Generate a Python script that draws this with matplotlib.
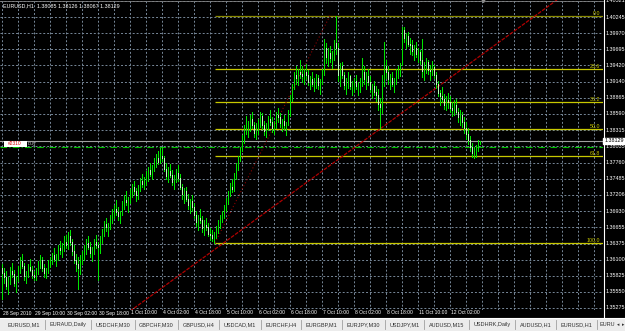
import matplotlib
matplotlib.use("Agg")
import matplotlib.pyplot as plt
from matplotlib.lines import Line2D
from matplotlib.patches import Rectangle

plt.rcParams['font.family'] = ['Liberation Sans', 'DejaVu Sans']

symbol = "EURUSD,H1"
header_ohlc = "1.38085 1.38126 1.38067 1.38129"

# hourly bars (one entry per bar)
highs = [
    1.3602, 1.3595, 1.3590, 1.3580, 1.3598, 1.3605, 1.3593, 1.3582,
    1.3600, 1.3615, 1.3620, 1.3605, 1.3590, 1.3602, 1.3612, 1.3600,
    1.3590, 1.3595, 1.3608, 1.3618, 1.3614, 1.3602, 1.3596, 1.3610,
    1.3615, 1.3622, 1.3630, 1.3620, 1.3635, 1.3642, 1.3638, 1.3650,
    1.3652, 1.3658, 1.3660, 1.3645, 1.3635, 1.3620, 1.3615, 1.3618,
    1.3625, 1.3635, 1.3645, 1.3650, 1.3640, 1.3632, 1.3645, 1.3652,
    1.3641, 1.3651, 1.3663, 1.3676, 1.3681, 1.3673, 1.3686, 1.3696,
    1.3704, 1.3712, 1.3700, 1.3694, 1.3710, 1.3720, 1.3727, 1.3717,
    1.3730, 1.3740, 1.3744, 1.3732, 1.3737, 1.3750, 1.3757, 1.3752,
    1.3761, 1.3768, 1.3775, 1.3771, 1.3783, 1.3791, 1.3795, 1.3801,
    1.3803, 1.3788, 1.3775, 1.3768, 1.3773, 1.3763, 1.3755, 1.3765,
    1.3772, 1.3757, 1.3740, 1.3732, 1.3734, 1.3722, 1.3714, 1.3720,
    1.3707, 1.3694, 1.3687, 1.3697, 1.3684, 1.3677, 1.3682, 1.3672,
    1.3664, 1.3660, 1.3658, 1.3667, 1.3677, 1.3687, 1.3694, 1.3704,
    1.3715, 1.3728, 1.3741, 1.3748, 1.3758, 1.3775, 1.3788, 1.3803,
    1.3823, 1.3840, 1.3855, 1.3847, 1.3857, 1.3863, 1.3845, 1.3843,
    1.3850, 1.3863, 1.3860, 1.3847, 1.3843, 1.3855, 1.3865, 1.3853,
    1.3847, 1.3863, 1.3870, 1.3860, 1.3851, 1.3857, 1.3845, 1.3865,
    1.3891, 1.3911, 1.3931, 1.3941, 1.3936, 1.3951, 1.3941, 1.3936,
    1.3944, 1.3934, 1.3924, 1.3931, 1.3921, 1.3928, 1.3926, 1.3918,
    1.3936, 1.3988, 1.3981, 1.3971, 1.3976, 1.3966, 1.3986, 1.4027,
    1.3981, 1.3946, 1.3948, 1.3931, 1.3921, 1.3931, 1.3926, 1.3916,
    1.3921, 1.3926, 1.3914, 1.3921, 1.3954, 1.3941, 1.3931, 1.3936,
    1.3924, 1.3911, 1.3916, 1.3906, 1.3901, 1.3886, 1.3926, 1.3982,
    1.3951, 1.3941, 1.3928, 1.3931, 1.3921, 1.3936, 1.3941, 1.3946,
    1.4008, 1.4007, 1.3997, 1.3999, 1.3989, 1.3985, 1.3977, 1.3982,
    1.3972, 1.3969, 1.3987, 1.3947, 1.3955, 1.3952, 1.3942, 1.3949,
    1.3943, 1.3930, 1.3915, 1.3900, 1.3905, 1.3893, 1.3890, 1.3895,
    1.3890, 1.3880, 1.3883, 1.3885, 1.3870, 1.3865, 1.3863, 1.3853,
    1.3845, 1.3835, 1.3822, 1.3810, 1.3802, 1.3806, 1.3814, 1.3813,
]
lows = [
    1.3542, 1.3570, 1.3560, 1.3552, 1.3568, 1.3580, 1.3565, 1.3555,
    1.3573, 1.3588, 1.3595, 1.3575, 1.3570, 1.3580, 1.3590, 1.3578,
    1.3575, 1.3576, 1.3585, 1.3595, 1.3590, 1.3580, 1.3578, 1.3588,
    1.3598, 1.3602, 1.3608, 1.3600, 1.3610, 1.3620, 1.3615, 1.3625,
    1.3630, 1.3628, 1.3635, 1.3618, 1.3605, 1.3590, 1.3560, 1.3585,
    1.3602, 1.3610, 1.3620, 1.3628, 1.3615, 1.3608, 1.3620, 1.3630,
    1.3576, 1.3621, 1.3639, 1.3651, 1.3659, 1.3651, 1.3663, 1.3673,
    1.3682, 1.3687, 1.3677, 1.3672, 1.3686, 1.3697, 1.3704, 1.3692,
    1.3707, 1.3717, 1.3722, 1.3710, 1.3714, 1.3727, 1.3734, 1.3730,
    1.3738, 1.3745, 1.3753, 1.3748, 1.3761, 1.3768, 1.3773, 1.3775,
    1.3778, 1.3761, 1.3748, 1.3743, 1.3751, 1.3738, 1.3731, 1.3743,
    1.3744, 1.3730, 1.3714, 1.3707, 1.3710, 1.3697, 1.3690, 1.3694,
    1.3682, 1.3667, 1.3660, 1.3672, 1.3657, 1.3652, 1.3660, 1.3650,
    1.3644, 1.3642, 1.3639, 1.3647, 1.3656, 1.3664, 1.3674, 1.3682,
    1.3693, 1.3705, 1.3718, 1.3725, 1.3728, 1.3748, 1.3763, 1.3778,
    1.3795, 1.3810, 1.3825, 1.3820, 1.3830, 1.3835, 1.3820, 1.3817,
    1.3825, 1.3837, 1.3833, 1.3823, 1.3820, 1.3831, 1.3840, 1.3829,
    1.3825, 1.3835, 1.3845, 1.3837, 1.3830, 1.3833, 1.3823, 1.3840,
    1.3856, 1.3881, 1.3901, 1.3911, 1.3908, 1.3921, 1.3914, 1.3911,
    1.3918, 1.3908, 1.3901, 1.3906, 1.3898, 1.3904, 1.3901, 1.3894,
    1.3911, 1.3926, 1.3946, 1.3941, 1.3948, 1.3938, 1.3951, 1.3961,
    1.3916, 1.3906, 1.3921, 1.3901, 1.3894, 1.3904, 1.3901, 1.3891,
    1.3896, 1.3901, 1.3891, 1.3896, 1.3906, 1.3911, 1.3901, 1.3908,
    1.3896, 1.3886, 1.3891, 1.3881, 1.3866, 1.3835, 1.3861, 1.3906,
    1.3921, 1.3911, 1.3901, 1.3906, 1.3896, 1.3911, 1.3921, 1.3924,
    1.3942, 1.3982, 1.3972, 1.3975, 1.3962, 1.3959, 1.3952, 1.3957,
    1.3947, 1.3945, 1.3922, 1.3917, 1.3929, 1.3927, 1.3917, 1.3925,
    1.3920, 1.3903, 1.3890, 1.3875, 1.3880, 1.3867, 1.3865, 1.3870,
    1.3863, 1.3855, 1.3857, 1.3860, 1.3845, 1.3840, 1.3837, 1.3827,
    1.3817, 1.3807, 1.3795, 1.3786, 1.3784, 1.3786, 1.3795, 1.3807,
]
closes = [
    1.3588, 1.3580, 1.3565, 1.3575, 1.3590, 1.3585, 1.3570, 1.3578,
    1.3595, 1.3608, 1.3600, 1.3582, 1.3586, 1.3598, 1.3593, 1.3584,
    1.3580, 1.3590, 1.3602, 1.3610, 1.3596, 1.3588, 1.3592, 1.3605,
    1.3610, 1.3618, 1.3612, 1.3616, 1.3630, 1.3626, 1.3632, 1.3640,
    1.3635, 1.3650, 1.3640, 1.3625, 1.3610, 1.3602, 1.3595, 1.3612,
    1.3620, 1.3630, 1.3638, 1.3632, 1.3622, 1.3628, 1.3640, 1.3635,
    1.3631, 1.3646, 1.3659, 1.3671, 1.3666, 1.3669, 1.3681, 1.3689,
    1.3697, 1.3692, 1.3684, 1.3690, 1.3704, 1.3712, 1.3708, 1.3714,
    1.3724, 1.3734, 1.3727, 1.3720, 1.3732, 1.3744, 1.3740, 1.3747,
    1.3755, 1.3763, 1.3757, 1.3768, 1.3778, 1.3783, 1.3777, 1.3788,
    1.3783, 1.3765, 1.3753, 1.3761, 1.3755, 1.3743, 1.3748, 1.3758,
    1.3750, 1.3734, 1.3722, 1.3727, 1.3714, 1.3704, 1.3710, 1.3700,
    1.3687, 1.3674, 1.3682, 1.3677, 1.3664, 1.3670, 1.3666, 1.3654,
    1.3652, 1.3647, 1.3654, 1.3662, 1.3672, 1.3682, 1.3690, 1.3697,
    1.3711, 1.3723, 1.3735, 1.3731, 1.3753, 1.3771, 1.3783, 1.3798,
    1.3817, 1.3833, 1.3837, 1.3843, 1.3850, 1.3840, 1.3827, 1.3835,
    1.3845, 1.3855, 1.3840, 1.3830, 1.3837, 1.3850, 1.3845, 1.3835,
    1.3841, 1.3857, 1.3853, 1.3843, 1.3847, 1.3840, 1.3843, 1.3860,
    1.3886, 1.3906, 1.3926, 1.3921, 1.3931, 1.3928, 1.3924, 1.3931,
    1.3926, 1.3914, 1.3918, 1.3911, 1.3916, 1.3921, 1.3908, 1.3914,
    1.3931, 1.3971, 1.3956, 1.3964, 1.3954, 1.3958, 1.3981, 1.3971,
    1.3926, 1.3941, 1.3926, 1.3908, 1.3914, 1.3924, 1.3906, 1.3911,
    1.3916, 1.3906, 1.3908, 1.3916, 1.3931, 1.3918, 1.3924, 1.3914,
    1.3901, 1.3906, 1.3896, 1.3891, 1.3876, 1.3871, 1.3916, 1.3941,
    1.3931, 1.3918, 1.3921, 1.3911, 1.3916, 1.3931, 1.3934, 1.3941,
    1.4002, 1.3989, 1.3992, 1.3979, 1.3977, 1.3967, 1.3972, 1.3962,
    1.3965, 1.3952, 1.3932, 1.3942, 1.3947, 1.3935, 1.3932, 1.3939,
    1.3925, 1.3910, 1.3895, 1.3890, 1.3885, 1.3875, 1.3883, 1.3880,
    1.3870, 1.3865, 1.3875, 1.3863, 1.3853, 1.3857, 1.3845, 1.3835,
    1.3825, 1.3815, 1.3803, 1.3792, 1.3796, 1.3802, 1.3808, 1.3813,
]
first_open = 1.3595

date_labels = ["28 Sep 2010", "29 Sep 10:00", "30 Sep 02:00", "30 Sep 18:00",
               "1 Oct 10:00", "4 Oct 02:00", "4 Oct 18:00", "5 Oct 10:00",
               "6 Oct 02:00", "6 Oct 18:00", "7 Oct 10:00", "8 Oct 02:00",
               "8 Oct 18:00", "11 Oct 10:00", "12 Oct 02:00"]
bars_per_label = 16

price_ticks = [1.40521, 1.40245, 1.39970, 1.39695, 1.39420, 1.39140, 1.38865,
               1.38590, 1.38315, 1.38035, 1.37760, 1.37485, 1.37206, 1.36930,
               1.36655, 1.36375, 1.36100, 1.35825, 1.35550, 1.35275]

bid = 1.38129
order_price = 1.3803

fib_low, fib_high = 1.3639, 1.4027
fib_bars = [106.5, 164]
fib_levels = [0.0, 23.6, 38.2, 50.0, 61.8, 100.0]

trend_bars = [64, 277.5]
trend_prices = [1.3522, 1.4054]

tabs = ["EURUSD,M1", "EURAUD,Daily", "USDCHF,M30", "GBPCHF,M30", "GBPUSD,H4",
        "USDCAD,M1", "EURCHF,H4", "EURGBP,M1", "EURJPY,M30", "USDJPY,M1",
        "AUDUSD,M15", "USDHRK,Daily", "AUDUSD,H1", "EURUSD,H1", "EURU"]

W, H = 625, 331
fig = plt.figure(figsize=(W / 100, H / 100), dpi=100, facecolor='black')
ax = fig.add_axes([0, (H - 310) / H, 603 / W, 310 / H])
ax.set_facecolor('black')
ax.set_xlim(-1, 300.5)
ax.set_ylim(1.35240, 1.40538)
ax.set_xticks([])
ax.set_yticks([])
for s in ax.spines.values():
    s.set_visible(False)

grid_kw = dict(color='#778899', lw=0.7, ls=(0, (2, 2)), zorder=1)
for p in price_ticks:
    ax.axhline(p, **grid_kw)
for b in range(0, 301, 8):
    ax.axvline(b, **grid_kw)

# fibo retracement
fib_prices = [fib_high - lv / 100 * (fib_high - fib_low) for lv in fib_levels]
for lv, p in zip(fib_levels, fib_prices):
    col = '#8a8a00' if lv == 0 else '#c8c800'
    ax.hlines(p, fib_bars[0], 300.5, color=col, lw=0.9, zorder=2)
    ax.text(299, p, f"{lv:.1f}", color='#c8c800', fontsize=3.8,
            ha='right', va='bottom', zorder=5)
ax.plot(fib_bars, [fib_low, fib_high], color='#8b0000', lw=0.8,
        ls=(0, (1, 2)), zorder=3)

# trend line
ax.plot(trend_bars, trend_prices, color='#b00000', lw=0.9, ls=(0, (3, 1)),
        zorder=3)

# bid and order lines
ax.axhline(bid, color='#a0a0a0', lw=0.8, zorder=2)
ax.axhline(order_price, color='#00c000', lw=0.8, ls=(0, (6, 2, 1, 2)), zorder=2)

# price bars
opens = [first_open] + closes[:-1]
idx = list(range(len(closes)))
ax.vlines(idx, lows, highs, color='#00e600', lw=0.6, antialiased=False, zorder=4)
bear = [i for i in idx if closes[i] < opens[i]]
ax.vlines(bear, [closes[i] for i in bear], [opens[i] for i in bear],
          color='#b8ffb8', lw=0.6, antialiased=False, zorder=4)

# chart shift marker
ax.plot([240.5], [1.40530], marker='v', color='#909090', ms=3, zorder=6)
fig.add_artist(Line2D([0, 603 / W], [1 - 0.5 / H] * 2, color='#808080', lw=0.6))

# right price scale
fig.add_artist(Line2D([603.5 / W] * 2, [1 - 317 / H, 1], color='white', lw=0.8))
for p in price_ticks:
    ax.text(1.004, p, f"{p:.5f}", transform=ax.get_yaxis_transform(),
            color='white', fontsize=3.9, va='center', ha='left', clip_on=False)
ax.text(1.002, bid, f"{bid:.5f}", transform=ax.get_yaxis_transform(),
        color='black', fontsize=3.9, va='center', ha='left', clip_on=False,
        bbox=dict(boxstyle='square,pad=0.15', fc='white', ec='white'), zorder=7)

# time scale
for k, lab in enumerate(date_labels):
    ax.text(k * bars_per_label + 0.3, -3 / 310, lab,
            transform=ax.get_xaxis_transform(), color='white', fontsize=3.6,
            va='center', ha='left', clip_on=False)

# header and order label
fig.text(3 / W, 1 - 6 / H, f"{symbol}  {header_ohlc}", color='white',
         fontsize=3.9, va='center', ha='left')
fig.add_artist(Rectangle((4 / W, 1 - 147 / H), 23 / W, 6 / H,
                         fc='white', ec='none'))
fig.text(8 / W, 1 - 144 / H, "#2310", color='#d00000', fontsize=3.5,
         va='center', ha='left')
fig.text(28 / W, 1 - 144 / H, "buy", color='#b0b0b0', fontsize=3.8,
         va='center', ha='left')

# tab bar
fig.add_artist(Rectangle((0, 0), 1, 13.5 / H, fc='#ececec', ec='none'))
fig.add_artist(Line2D([0, 1], [13.5 / H] * 2, color='#ffffff', lw=0.8))
renderer = fig.canvas.get_renderer()
tab_texts, widths = [], []
for name in tabs:
    t = fig.text(0, 6.5 / H, name, fontsize=4.0, color='#303030',
                 va='center', ha='left')
    tab_texts.append(t)
    widths.append(t.get_window_extent(renderer).width)
pad = (594 - sum(widths[:14])) / 14
x = 3
for t, w in zip(tab_texts[:14], widths[:14]):
    t.set_x((x + pad / 2) / W)
    x += w + pad
    fig.add_artist(Line2D([x / W] * 2, [2 / H, 11 / H], color='#a0a0a0', lw=0.6))
tab_texts[14].set_x((x + 3) / W)
fig.text(617 / W, 6.5 / H, "◂", fontsize=3.4, color='#303030', va='center',
         family=['DejaVu Sans'])
fig.text(621.5 / W, 6.5 / H, "▸", fontsize=3.4, color='#303030', va='center',
         family=['DejaVu Sans'])

fig.savefig("out.png", dpi=100, facecolor='black')
